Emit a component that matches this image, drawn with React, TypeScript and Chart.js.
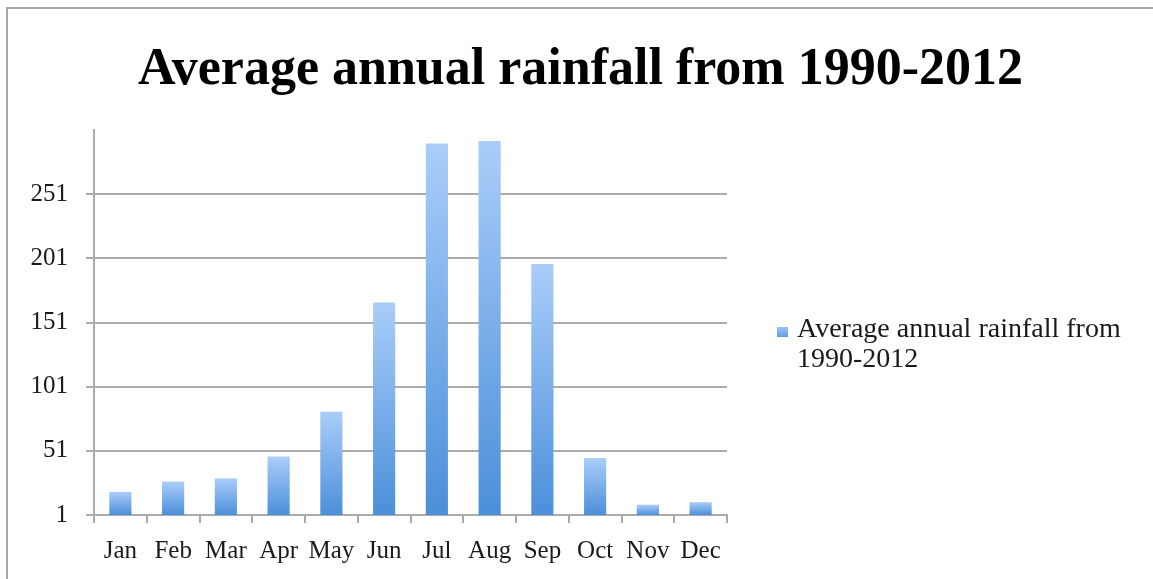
import React, { useEffect, useRef } from 'react';
import { Chart, registerables } from 'chart.js';

Chart.register(...registerables);

const titleText = 'Average annual rainfall from 1990-2012';
const months = ['Jan', 'Feb', 'Mar', 'Apr', 'May', 'Jun', 'Jul', 'Aug', 'Sep', 'Oct', 'Nov', 'Dec'];
const rainfall = [19, 27, 29.5, 46.5, 81.5, 166.5, 290.5, 292.5, 196.5, 45.5, 9, 11];
const yTicks = [1, 51, 101, 151, 201, 251];
const yMin = 1;
const yMax = 301;
const legendLines = ['Average annual rainfall from', '1990-2012'];

const FONT = "'Liberation Serif', 'Times New Roman', serif";
const GRID = '#ababab';

const sideLegend = {
  id: 'sideLegend',
  afterDraw(chart: any) {
    const { ctx, chartArea } = chart;
    const midY = (chartArea.top + chartArea.bottom) / 2;
    const boxX = chartArea.right + 50;
    const boxY = midY + 4.5;
    ctx.save();
    const g = ctx.createLinearGradient(0, boxY, 0, boxY + 10);
    g.addColorStop(0, '#9cc4f6');
    g.addColorStop(1, '#5e9de2');
    ctx.fillStyle = g;
    ctx.fillRect(boxX, boxY, 11, 10);
    ctx.fillStyle = '#1a1a1a';
    ctx.font = `28px ${FONT}`;
    ctx.textAlign = 'left';
    ctx.textBaseline = 'alphabetic';
    legendLines.forEach((line, i) => {
      ctx.fillText(line, boxX + 20, midY + 14 + i * 30);
    });
    ctx.restore();
  },
};

export default function App() {
  const ref = useRef<HTMLCanvasElement | null>(null);

  useEffect(() => {
    if (!ref.current) return;
    const chart = new Chart(ref.current, {
      type: 'bar',
      data: {
        labels: months,
        datasets: [
          {
            label: legendLines.join(' '),
            data: rainfall,
            backgroundColor: (ctx: any) => {
              const c = ctx.chart;
              const y = c.scales && c.scales.y;
              if (ctx.type !== 'data' || !y || !c.chartArea) return '#7fb2ee';
              const top = y.getPixelForValue(ctx.raw as number);
              const bottom = y.getPixelForValue(yMin);
              if (!isFinite(top) || !isFinite(bottom) || bottom - top < 1) return '#7fb2ee';
              const g = c.ctx.createLinearGradient(0, top, 0, bottom);
              g.addColorStop(0, '#aacdf9');
              g.addColorStop(1, '#4b8fda');
              return g;
            },
            borderWidth: 0,
            categoryPercentage: 1,
            barPercentage: 0.42,
          },
        ],
      },
      options: {
        responsive: false,
        animation: false,
        devicePixelRatio: 1,
        layout: { padding: { left: 0, right: 0, top: 0, bottom: 11 } },
        plugins: {
          title: {
            display: true,
            text: titleText,
            color: '#000',
            font: { family: FONT, size: 52, weight: 'bold', lineHeight: 1.2 },
            padding: { top: 30, bottom: 28.6 },
          },
          legend: { display: false },
          tooltip: { enabled: false },
        },
        scales: {
          x: {
            offset: true,
            grid: {
              offset: true,
              drawOnChartArea: false,
              drawTicks: true,
              tickLength: 8,
              color: GRID,
              lineWidth: 2,
            },
            border: { display: true, color: GRID, width: 2 },
            ticks: {
              color: '#1a1a1a',
              font: { family: FONT, size: 25 },
              padding: 13,
              maxRotation: 0,
              autoSkip: false,
            },
            afterFit: (s: any) => {
              s.height = 53;
            },
          },
          y: {
            min: yMin,
            max: yMax,
            afterBuildTicks: (s: any) => {
              s.ticks = yTicks.map((v) => ({ value: v }));
            },
            afterFit: (s: any) => {
              s.width = 86;
            },
            grid: {
              drawOnChartArea: true,
              drawTicks: true,
              tickLength: 8,
              color: GRID,
              lineWidth: 2,
            },
            border: { display: true, color: GRID, width: 2 },
            ticks: {
              color: '#1a1a1a',
              font: { family: FONT, size: 25 },
              padding: 18,
            },
          },
          legendSpace: {
            type: 'linear',
            position: 'right',
            display: true,
            grid: { display: false, drawTicks: false },
            border: { display: false },
            ticks: { display: false },
            afterFit: (s: any) => {
              s.width = 426;
            },
          },
        },
      },
      plugins: [sideLegend],
    } as any);
    return () => chart.destroy();
  }, []);

  return (
    <div
      style={{
        position: 'absolute',
        left: 6,
        top: 7,
        width: 1147,
        height: 572,
        borderLeft: '2px solid #a8a8a8',
        borderTop: '2px solid #a8a8a8',
        boxSizing: 'border-box',
        background: '#fff',
      }}
    >
      <canvas ref={ref} width={1145} height={570} style={{ display: 'block', width: 1145, height: 570 }} />
    </div>
  );
}
